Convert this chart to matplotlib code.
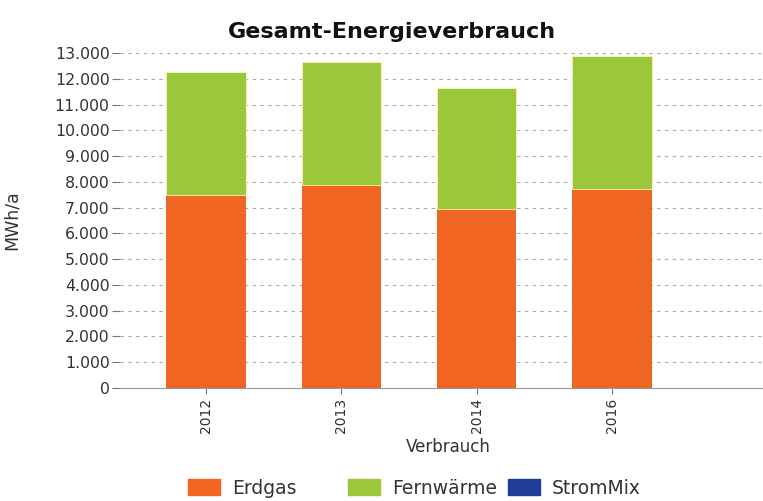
import numpy as np
import matplotlib.pyplot as plt
from matplotlib.ticker import FuncFormatter
from matplotlib.patches import Patch

# data
years = ['2012', '2013', '2014', '2016']
erdgas = [7490, 7880, 6930, 7720]
fernwaerme = [4770, 4770, 4700, 5160]
strommix = [0, 0, 0, 0]

plt.rcParams['font.family'] = ['DejaVu Sans']

W, H = 763, 501
fig = plt.figure(figsize=(W/100, H/100), dpi=100)
ax = fig.add_axes([120/W, 113/H, 643/W, 335/H])

c_gas, c_fw, c_strom = '#F06522', '#9BC83A', '#1F3C96'

x = np.arange(len(years))
w = 0.585
ax.bar(x, erdgas, w, color=c_gas, zorder=3)
ax.bar(x, fernwaerme, w, bottom=erdgas, color=c_fw, zorder=3,
       edgecolor='#FFF6B0', linewidth=0.6)
bot = np.array(erdgas) + np.array(fernwaerme)
ax.bar(x, strommix, w, bottom=bot, color=c_strom, zorder=3)

ax.set_xlim(-0.636, 4.116)
ax.set_ylim(0, 13000)
ax.set_yticks(np.arange(0, 13001, 1000))
ax.yaxis.set_major_formatter(FuncFormatter(lambda v, p: f"{int(v):,}".replace(',', '.')))
ax.set_xticks(x)
ax.set_xticklabels(years, rotation=90)
ax.tick_params(axis='y', labelsize=11.3, length=6, pad=1.5, color='#777777', colors='#333333')
ax.tick_params(axis='x', labelsize=10, length=4, pad=3, color='#777777', colors='#333333')
ax.grid(axis='y', linestyle=(0, (3, 4)), color='#AAAAAA', linewidth=0.8, zorder=0)

for s in ['top', 'right', 'left']:
    ax.spines[s].set_visible(False)
ax.spines['bottom'].set_color('#999999')

fig.text(392/W, 1 - 38/H, 'Gesamt-Energieverbrauch', fontsize=16, fontweight='bold',
         ha='center', va='baseline', color='#111111')
ax.set_ylabel('MWh/a', fontsize=12.5, color='#333333')
ax.yaxis.set_label_coords((21 - 120)/643, 0.5)
ax.set_xlabel('Verbrauch', fontsize=12, color='#333333')
ax.xaxis.set_label_coords((448 - 120)/643, -(447 - 388)/335)
ax.xaxis.label.set_va('center')

# legend entries sit in fixed-width slots
labels = ['Erdgas', 'Fernwärme', 'StromMix']
colors = [c_gas, c_fw, c_strom]
slots = [188, 348, 508]
for lab, col, xs in zip(labels, colors, slots):
    fig.legend(handles=[Patch(color=col, label=lab)], loc='center left',
               bbox_to_anchor=(xs/W, 1 - 488/H), frameon=False, borderpad=0,
               borderaxespad=0, fontsize=13.5, handlelength=1.7, handleheight=0.9,
               handletextpad=0.64, labelcolor='#333333')

fig.savefig('out.png', dpi=100)
